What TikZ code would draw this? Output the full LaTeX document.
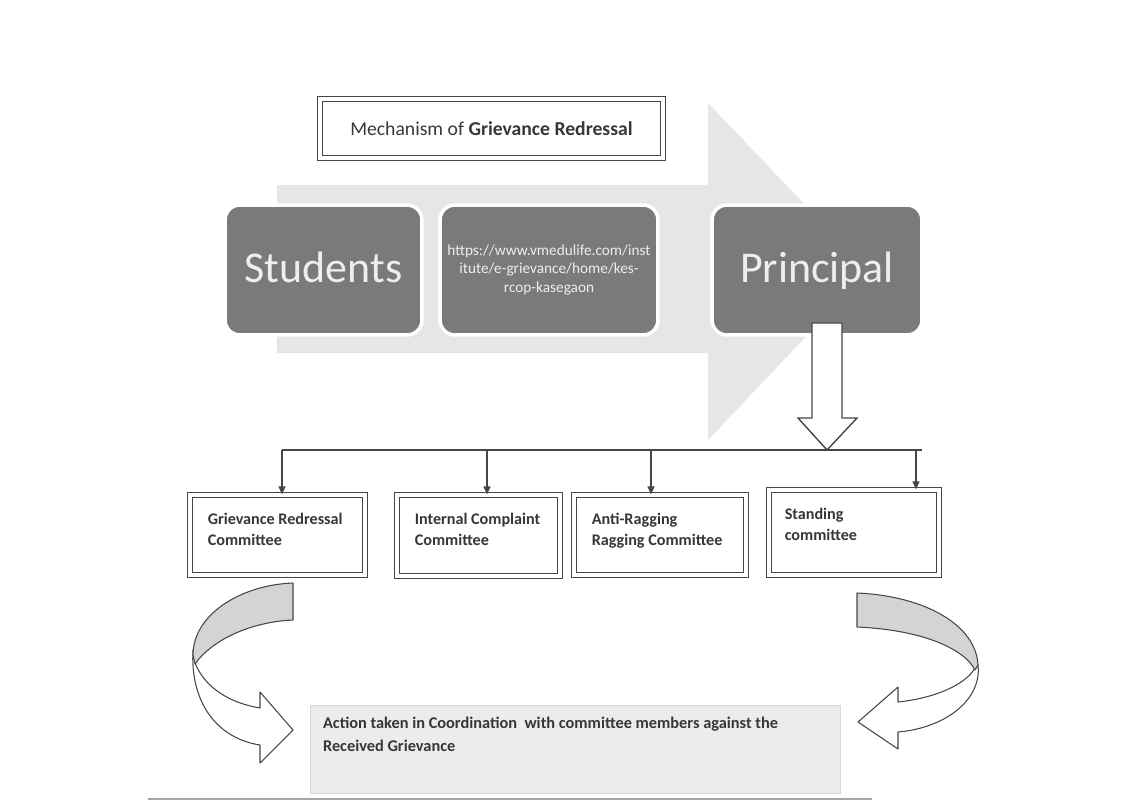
\documentclass[tikz,border=0pt]{standalone}
\usepackage{fontspec}
\setmainfont{Carlito}
\usetikzlibrary{arrows.meta, positioning, calc}
\definecolor{boxgray}{RGB}{122, 122, 122}
\definecolor{stagetext}{RGB}{238, 238, 238}
\definecolor{arrowgray}{RGB}{230, 230, 230}
\definecolor{linegray}{RGB}{70, 70, 70}
\definecolor{textgray}{RGB}{55, 55, 55}
\definecolor{bandgray}{RGB}{212, 212, 212}
\definecolor{actiongray}{RGB}{236, 236, 236}
\tikzstyle{heading} = [rectangle, draw=linegray, double=white, double distance=2.1pt, line width=0.7pt,
                       minimum width=6.86cm, minimum height=1.18cm, text=textgray, font=\fontsize{11.2}{13}\selectfont]
\tikzstyle{stage} = [rectangle, rounded corners=0.3cm, fill=boxgray, draw=white, line width=2pt,
                     text=stagetext, minimum height=2.6cm]
\tikzstyle{bigstage} = [stage, font=\fontsize{25}{30}\selectfont, text height=20pt, text depth=6pt]
\tikzstyle{committee} = [rectangle, draw=linegray, double=white, double distance=2.1pt, line width=0.7pt, fill=white]
\tikzstyle{note} = [font=\fontsize{9.2}{12}\selectfont\bfseries, text=textgray, align=left, inner sep=0pt, anchor=north west]
\tikzstyle{arrow} = [-{Triangle[length=1.6mm, width=1.4mm]}, linegray, line width=0.7pt]
\tikzstyle{blockarrow} = [draw=linegray, fill=white, line width=0.8pt, line join=miter]
\tikzstyle{curvearrow} = [draw=linegray, line width=0.6pt, line join=round]

\begin{document}
\begin{tikzpicture}[x=0.02cm, y=-0.02cm]
\useasboundingbox (0,0) rectangle (1124,803);

% Background arrow
\fill[arrowgray] (277,185) -- (708,185) -- (708,103) -- (868,271) -- (708,440) -- (708,353) -- (277,353) -- cycle;

% Title
\node[heading] (title) at (491.5,128.5) {Mechanism of \textbf{Grievance Redressal}};

% Stages
\node[bigstage, minimum width=3.94cm] (students) at (323.5,270) {Students};
\node[stage, minimum width=4.36cm, align=center, font=\fontsize{8.7}{10.8}\selectfont] (portal) at (549,270)
    {https://www.vmedulife.com/inst\\itute/e-grievance/home/kes-\\rcop-kasegaon};
\node[bigstage, minimum width=4.2cm] (principal) at (817,270) {Principal};

% Down arrow from principal
\draw[blockarrow] (812,323) -- (842,323) -- (842,418) -- (857,418) -- (827,450) -- (798,418) -- (812,418) -- cycle;
\coordinate (tip) at (827,450);

% Committees
\node[committee, minimum width=3.5cm, minimum height=1.6cm,
      label={[note, xshift=0.36cm, yshift=-0.36cm]north west:Grievance Redressal\\Committee}] (grc) at (277.5,535) {};
\node[committee, minimum width=3.26cm, minimum height=1.62cm,
      label={[note, xshift=0.36cm, yshift=-0.36cm]north west:Internal Complaint\\Committee}] (icc) at (478.5,535.5) {};
\node[committee, minimum width=3.44cm, minimum height=1.6cm,
      label={[note, xshift=0.36cm, yshift=-0.36cm]north west:Anti-Ragging\\Ragging Committee}] (arc) at (660,535) {};
\node[committee, minimum width=3.4cm, minimum height=1.7cm,
      label={[note, xshift=0.32cm, yshift=-0.36cm]north west:Standing\\committee}] (stc) at (854,532.5) {};

% Arrows
\coordinate (b1) at (282,450);
\coordinate (b2) at (487,450);
\coordinate (b3) at (651,450);
\coordinate (b4) at (916,450);
\draw[linegray, line width=0.7pt] (b1) -- (tip) -- (922,450);
\draw[arrow] (b1) -- (b1 |- grc.north);
\draw[arrow] (b2) -- (b2 |- icc.north);
\draw[arrow] (b3) -- (b3 |- arc.north);
\draw[arrow] (b4) -- (b4 |- stc.north);

% Action
\node[rectangle, fill=actiongray, draw=gray!30, minimum width=10.6cm, minimum height=1.76cm,
      label={[note, font=\fontsize{9.3}{13}\selectfont\bfseries, xshift=0.26cm, yshift=-0.24cm]north west:Action taken in Coordination\ \ with committee members against the\\Received Grievance}]
      (action) at (575,749) {};

% Curved arrows
\draw[curvearrow, fill=white] (193,650) .. controls (190,700) and (215,738) .. (260,745) -- (260,763) -- (293,730)
    -- (260,692) -- (260,708) .. controls (230,703) and (205,688) .. (195,663) -- cycle;
\draw[curvearrow, fill=bandgray] (293,583) .. controls (240,585) and (193,615) .. (193,655) -- (195,664)
    .. controls (212,640) and (250,622) .. (293,620) -- cycle;
\draw[curvearrow, fill=white] (978,665) .. controls (982,700) and (945,728) .. (898,732) -- (898,749) -- (858,722)
    -- (898,687) -- (898,702) .. controls (935,698) and (965,685) .. (975,668) -- cycle;
\draw[curvearrow, fill=bandgray] (857,593) .. controls (925,596) and (976,625) .. (978,665) -- (975,670)
    .. controls (965,650) and (925,630) .. (857,627) -- cycle;

\draw[gray!70, line width=1.2pt] (148,799) -- (872,799);

\end{tikzpicture}
\end{document}
